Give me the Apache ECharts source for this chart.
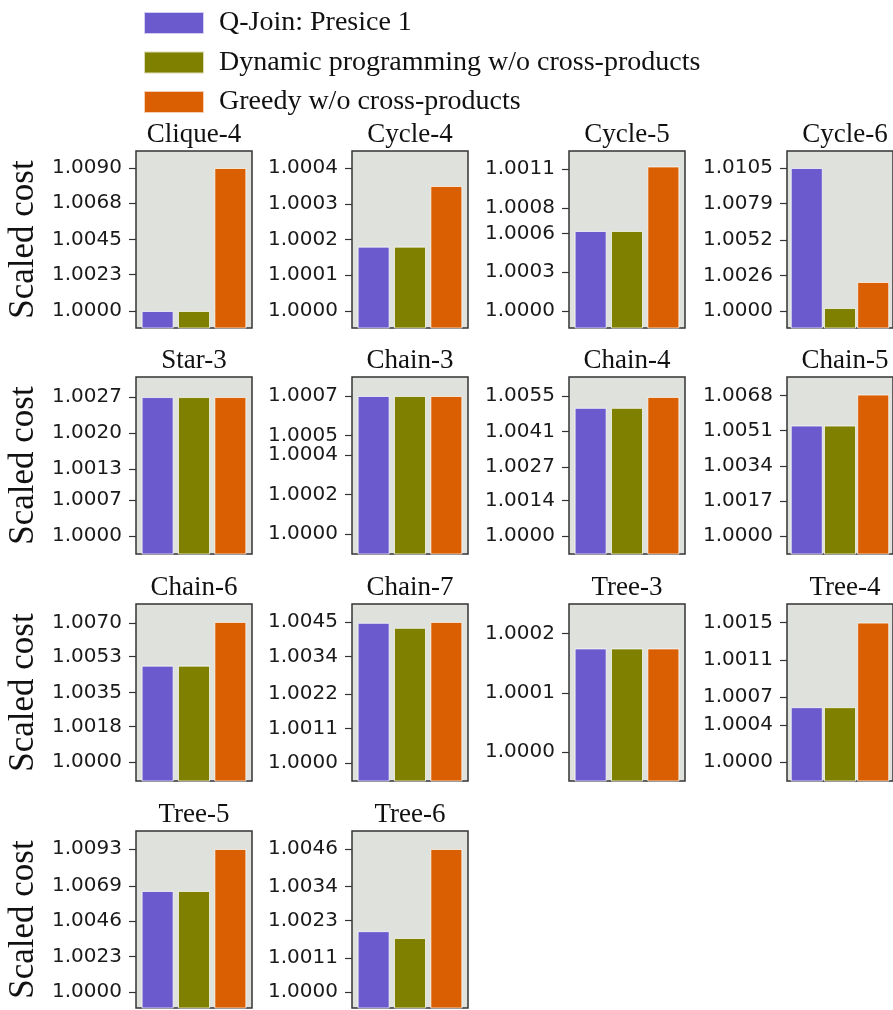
<!DOCTYPE html>
<html>
<head>
<meta charset="utf-8">
<script src="https://cdn.jsdelivr.net/npm/echarts@6/dist/echarts.min.js"></script>
<style>
  html, body { margin: 0; padding: 0; background: #fff; }
  #chart { width: 893px; height: 1010px; }
</style>
</head>
<body>
<div id="chart"></div>
<script>
// panel titles, in reading order
const panelTitles = ['Clique-4', 'Cycle-4', 'Cycle-5', 'Cycle-6',
  'Star-3', 'Chain-3', 'Chain-4', 'Chain-5',
  'Chain-6', 'Chain-7', 'Tree-3', 'Tree-4',
  'Tree-5', 'Tree-6'];

const seriesNames = ['Q-Join: Presice 1', 'Dynamic programming w/o cross-products', 'Greedy w/o cross-products'];

// scaled cost per panel
const qjoinCost  = [1.0000, 1.00018, 1.00062, 1.0105, 1.0027, 1.0007, 1.00503, 1.00535, 1.00485, 1.00447, 1.000175, 1.00059, 1.00657, 1.00196];
const dpCost     = [1.0000, 1.00018, 1.00062, 1.00022, 1.0027, 1.0007, 1.00503, 1.00535, 1.00485, 1.00431, 1.000175, 1.00059, 1.00657, 1.00174];
const greedyCost = [1.0090, 1.00035, 1.00112, 1.00213, 1.0027, 1.0007, 1.00546, 1.00685, 1.00705, 1.0045, 1.000175, 1.0015, 1.0093, 1.0046];

// y tick labels per panel
const tickLabels = [
  ['1.0000', '1.0023', '1.0045', '1.0068', '1.0090'],
  ['1.0000', '1.0001', '1.0002', '1.0003', '1.0004'],
  ['1.0000', '1.0003', '1.0006', '1.0008', '1.0011'],
  ['1.0000', '1.0026', '1.0052', '1.0079', '1.0105'],
  ['1.0000', '1.0007', '1.0013', '1.0020', '1.0027'],
  ['1.0000', '1.0002', '1.0004', '1.0005', '1.0007'],
  ['1.0000', '1.0014', '1.0027', '1.0041', '1.0055'],
  ['1.0000', '1.0017', '1.0034', '1.0051', '1.0068'],
  ['1.0000', '1.0018', '1.0035', '1.0053', '1.0070'],
  ['1.0000', '1.0011', '1.0022', '1.0034', '1.0045'],
  ['1.0000', '1.0001', '1.0002'],
  ['1.0000', '1.0004', '1.0007', '1.0011', '1.0015'],
  ['1.0000', '1.0023', '1.0046', '1.0069', '1.0093'],
  ['1.0000', '1.0011', '1.0023', '1.0034', '1.0046']
];

// y axis range per panel
const axisMin = [0.99893, 0.999952, 0.999868, 0.99875, 0.99965, 0.9999, 0.9993, 0.99913, 0.99905, 0.99943, 0.9999513, 0.999796, 0.99896, 0.99949];
const axisMax = [1.01007, 1.000448, 1.00124, 1.01175, 1.00309, 1.000796, 1.00624, 1.0077, 1.00795, 1.00507, 1.00025, 1.0017, 1.01047, 1.00518];

const colors = ['#6a5acd', '#808000', '#da5f02'];
const costs = [qjoinCost, dpCost, greedyCost];

const colLeft = [136, 352, 569, 787];
const rowTop = [151, 377, 604, 831];
const boxW = 116, boxH = 177;

const grid = [], xAxis = [], yAxis = [], title = [], series = [];

panelTitles.forEach((name, p) => {
  const left = colLeft[p % 4];
  const top = rowTop[Math.floor(p / 4)];
  grid.push({
    left: left, top: top, width: boxW, height: boxH,
    show: true, backgroundColor: '#dfe2dc', borderColor: '#333', borderWidth: 1.5
  });
  title.push({
    text: name, left: left + boxW / 2, top: top - 30, textAlign: 'center', padding: 0,
    textStyle: { fontFamily: 'Liberation Serif', fontSize: 27, fontWeight: 'normal', color: '#111' }
  });
  xAxis.push({ gridIndex: p, type: 'value', min: -0.595, max: 2.595, show: false });
  const ticks = tickLabels[p].map(Number);
  yAxis.push({
    gridIndex: p, type: 'value', min: axisMin[p], max: axisMax[p],
    name: p % 4 === 0 ? 'Scaled cost' : '',
    nameLocation: 'middle', nameRotate: 90, nameGap: 95,
    nameTextStyle: { fontFamily: 'Liberation Serif', fontSize: 35, color: '#111' },
    axisLine: { show: false, onZero: false },
    splitLine: { show: false },
    axisTick: { show: true, length: 7, customValues: ticks, lineStyle: { color: '#333', width: 1.2 } },
    axisLabel: {
      customValues: ticks, margin: 14,
      fontFamily: 'DejaVu Sans', fontSize: 20, color: '#1a1a1a',
      formatter: v => v.toFixed(4)
    }
  });
  costs.forEach((arr, k) => {
    series.push({
      type: 'bar', name: seriesNames[k], xAxisIndex: p, yAxisIndex: p,
      data: [[k, arr[p]]], barWidth: 32, barGap: '-100%',
      itemStyle: { color: colors[k], borderColor: 'rgba(255,255,255,0.7)', borderWidth: 1 }
    });
  });
});

const chart = echarts.init(document.getElementById('chart'));
chart.setOption({
  animation: false,
  title: title,
  legend: {
    data: seriesNames, orient: 'vertical', left: 143, top: 9, padding: 0,
    icon: 'rect', itemWidth: 60, itemHeight: 22, itemGap: 11.5,
    textStyle: { fontFamily: 'Liberation Serif', fontSize: 28, lineHeight: 28, color: '#111', padding: [0, 0, 0, 10] }
  },
  grid: grid,
  xAxis: xAxis,
  yAxis: yAxis,
  series: series
});
</script>
</body>
</html>
